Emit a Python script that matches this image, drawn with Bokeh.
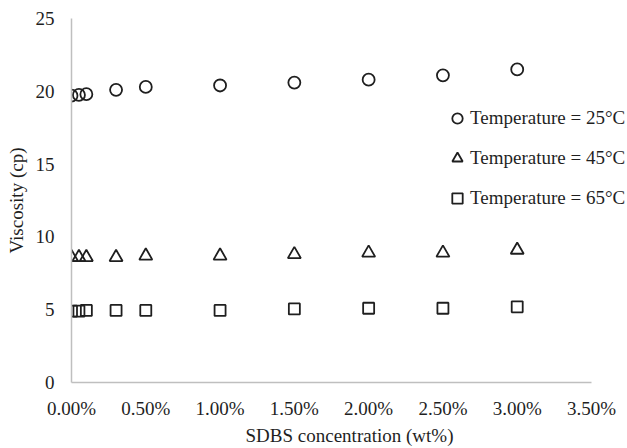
from bokeh.plotting import figure
from bokeh.models import Range1d, NumeralTickFormatter, FixedTicker, Legend, LegendItem
from bokeh.embed import file_html
from bokeh.resources import INLINE

conc = [0.0, 0.0005, 0.001, 0.003, 0.005, 0.01, 0.015, 0.02, 0.025, 0.03]
visc_25 = [19.7, 19.75, 19.8, 20.1, 20.3, 20.4, 20.6, 20.8, 21.1, 21.5]
visc_45 = [8.6, 8.6, 8.6, 8.6, 8.7, 8.7, 8.8, 8.9, 8.9, 9.1]
visc_65 = [4.9, 4.9, 4.95, 4.95, 4.95, 4.95, 5.05, 5.1, 5.1, 5.2]
labels = ["Temperature = 25°C", "Temperature = 45°C", "Temperature = 65°C"]
x_ticks = [0, 0.005, 0.01, 0.015, 0.02, 0.025, 0.03, 0.035]
y_ticks = [0, 5, 10, 15, 20, 25]

FONT = "Liberation Serif"
TXT = "#1f1f1f"
MK = "#1f1f1f"

p = figure(width=627, height=448, output_backend="svg", toolbar_location=None,
           x_range=Range1d(0, 0.035 * 556 / 520), y_range=Range1d(0, 25),
           min_border_left=71, min_border_right=0, min_border_top=18, min_border_bottom=64)
p.outline_line_color = None
p.grid.grid_line_color = None

r1 = p.scatter(conc, visc_25, marker="circle", size=12, fill_color=None, line_color=MK, line_width=1.8)
r2 = p.scatter(conc, visc_45, marker="triangle", size=13, fill_color=None, line_color=MK, line_width=1.8)
r3 = p.scatter(conc, visc_65, marker="square", size=11, fill_color=None, line_color=MK, line_width=1.8)

p.xaxis.ticker = FixedTicker(ticks=x_ticks)
p.xaxis.formatter = NumeralTickFormatter(format="0.00%")
p.xaxis.bounds = (0, 0.035)
p.yaxis.ticker = FixedTicker(ticks=y_ticks)
for ax in (p.xaxis, p.yaxis):
    ax.axis_line_color = "#bfbfbf"
    ax.axis_line_width = 1.5
    ax.major_tick_line_color = None
    ax.minor_tick_line_color = None
    ax.major_tick_out = 0
    ax.major_tick_in = 0
    ax.major_label_text_font = FONT
    ax.major_label_text_font_size = "19px"
    ax.major_label_text_color = TXT
    ax.axis_label_text_font = FONT
    ax.axis_label_text_font_size = "19px"
    ax.axis_label_text_font_style = "normal"
    ax.axis_label_text_color = TXT
p.xaxis.axis_label = "SDBS concentration (wt%)"
p.yaxis.axis_label = "Viscosity (cp)"
p.xaxis.major_label_standoff = 15
p.yaxis.major_label_standoff = 17
p.xaxis.axis_label_standoff = 3
p.yaxis.axis_label_standoff = 6

legend = Legend(items=[LegendItem(label=labels[0], renderers=[r1]),
                       LegendItem(label=labels[1], renderers=[r2]),
                       LegendItem(label=labels[2], renderers=[r3])],
                location=(373, 171), border_line_color=None, background_fill_alpha=0,
                padding=0, margin=0, spacing=14, glyph_width=26, glyph_height=26,
                label_height=26, label_standoff=0,
                label_text_font=FONT, label_text_font_size="19px", label_text_color=TXT)
p.add_layout(legend)

open("out.html", "w").write(file_html(p, INLINE))
